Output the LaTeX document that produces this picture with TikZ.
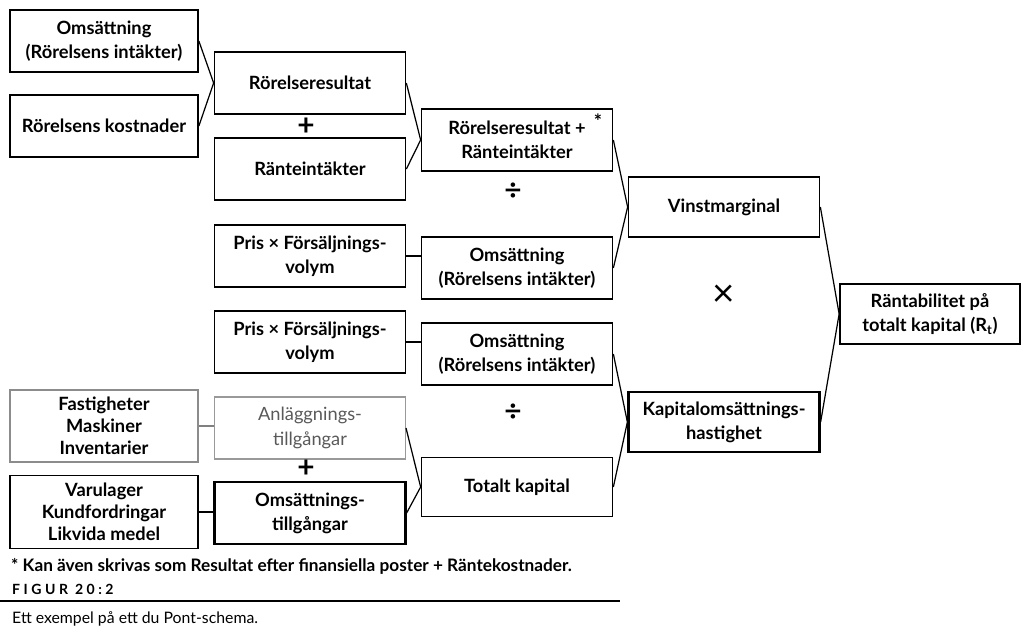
\documentclass[tikz,border=0pt]{standalone}
\usepackage{fontspec}
\setmainfont{Lato}
\usepackage{tikz}
\usetikzlibrary{positioning,calc}

\begin{document}
\begin{tikzpicture}
[x=0.02cm,y=-0.02cm,
box/.style = {draw, line width=1pt, minimum width=3.82cm, minimum height=1.24cm, inner sep=0pt, align=center, font=\fontsize{10.4}{13.8}\selectfont\bfseries},
leftbox/.style = {box, minimum width=3.76cm},
link/.style = {line width=0.7pt},
op/.style = {font=\fontsize{17}{17}\selectfont\bfseries},]
\useasboundingbox (0,0) rectangle (1021,629);

% first column
\node (omsA) at (104,41)[leftbox] {Omsättning\\(Rörelsens intäkter)};
\node (kostn) at (104,126)[leftbox] {Rörelsens kostnader};
\node (fast) at (104,426)[leftbox,draw=black!45,line width=0.7pt,minimum height=1.44cm,font=\fontsize{10.4}{12.6}\selectfont\bfseries] {Fastigheter\\Maskiner\\Inventarier};
\node (varu) at (104,512)[leftbox,minimum height=1.46cm,font=\fontsize{10.4}{12.6}\selectfont\bfseries] {Varulager\\Kundfordringar\\Likvida medel};

% second column
\node (rorres) at (310,83)[box] {Rörelseresultat};
\node (rantei) at (310,169)[box] {Ränteintäkter};
\node (prisA) at (310,256)[box] {Pris × Försäljnings-\\volym};
\node (prisB) at (310,342)[box] {Pris × Försäljnings-\\volym};
\node (anlagg) at (310,428)[box,draw=black!40,line width=0.6pt,text=black!65,font=\fontsize{10.4}{13.8}\selectfont] {Anläggnings-\\tillgångar};
\node (omstill) at (310,513)[box,line width=1.3pt] {Omsättnings-\\tillgångar};
\node at (306,127)[op] {+};
\node at (306,469)[op] {+};

% third column
\node (rrplus) at (517,140)[box] {Rörelseresultat +\\Ränteintäkter};
\node (star) at (598,121)[font=\fontsize{11}{11}\selectfont\bfseries] {*};
\node (omsB) at (517,268)[box] {Omsättning\\(Rörelsens intäkter)};
\node (omsC) at (517,354)[box] {Omsättning\\(Rörelsens intäkter)};
\node (totkap) at (517,487)[box,minimum height=1.18cm] {Totalt kapital};
\node at (513,192)[op] {÷};
\node at (513,413)[op] {÷};

% fourth column
\node (vinst) at (724,207)[box,minimum height=1.2cm] {Vinstmarginal};
\node (kapoms) at (724,422)[box,line width=1.3pt,minimum height=1.2cm] {Kapitalomsättnings-\\hastighet};
\node at (724,296)[op,font=\fontsize{22}{22}\selectfont] {×};

% result
\node (rant) at (930,314)[box,minimum width=3.6cm,minimum height=1.2cm] {Räntabilitet på\\totalt kapital (R\textsubscript{t})};

\draw[link] (omsA.east) -- (rorres.west);
\draw[link] (kostn.east) -- (rorres.west);
\draw[link] (rorres.east) -- (rrplus.west);
\draw[link] (rantei.east) -- (rrplus.west);
\draw[link] (prisA.east) -- (prisA.east -| omsB.west);
\draw[link] (prisB.east) -- (prisB.east -| omsC.west);
\draw[link] (rrplus.east) -- (vinst.west);
\draw[link] (omsB.east) -- (vinst.west);
\draw[link] (omsC.east) -- (kapoms.west);
\draw[link] (totkap.east) -- (kapoms.west);
\draw[link,black!50] (fast.east) -- (fast.east -| anlagg.west);
\draw[link] (varu.east) -- (varu.east -| omstill.west);
\draw[link] (anlagg.east) -- (totkap.west);
\draw[link] (omstill.east) -- (totkap.west);
\draw[link] (vinst.east) -- (rant.west);
\draw[link] (kapoms.east) -- (rant.west);

% footnote and caption
\node (note) at (5,566)[anchor=west,font=\fontsize{9.8}{11}\selectfont\bfseries] {* Kan även skrivas som Resultat efter finansiella poster + Räntekostnader.};
\node (fig) at (6,589)[anchor=west,font=\fontsize{8}{10}\selectfont\bfseries\addfontfeature{LetterSpace=25}] {FIGUR 20:2};
\coordinate (ruleL) at (0,601);
\coordinate (ruleR) at (620,601);
\draw[line width=1.3pt] (ruleL) -- (ruleR);
\node (cap) at (6,619)[anchor=west,font=\fontsize{9}{11}\selectfont] {Ett exempel på ett du Pont-schema.};
\end{tikzpicture}
\end{document}
